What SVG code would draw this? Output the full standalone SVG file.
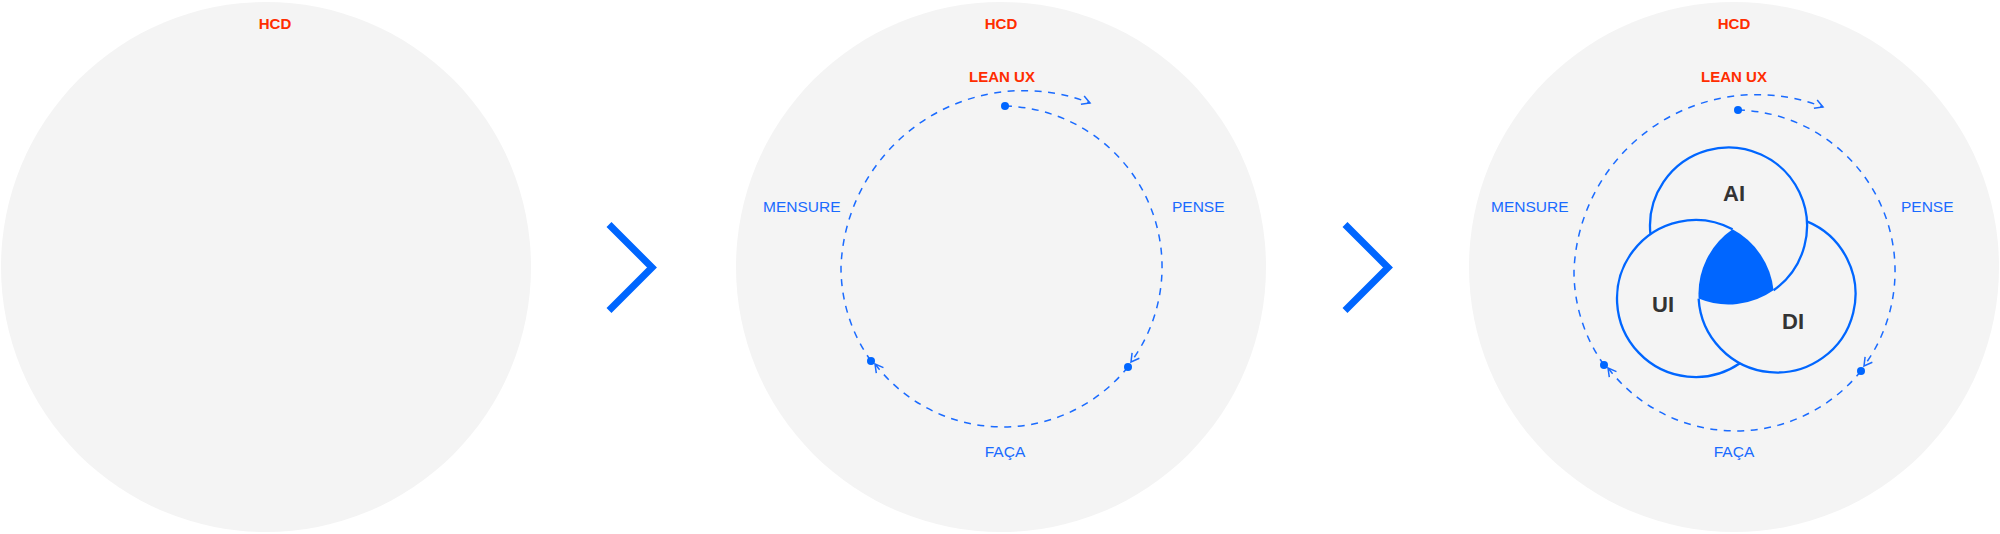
<svg xmlns="http://www.w3.org/2000/svg" width="2000" height="534" viewBox="0 0 2000 534">
<style>
.bg{fill:#f4f4f4;}
.red{fill:#ff2d00;font-family:"Liberation Sans",Arial,sans-serif;font-weight:bold;font-size:15px;text-anchor:middle;}
.blue{fill:#1a6bff;font-family:"Liberation Sans",Arial,sans-serif;font-size:15.5px;}
.venn{fill:#333333;font-family:"Liberation Sans",Arial,sans-serif;font-weight:bold;font-size:22px;text-anchor:middle;}
.dash{fill:none;stroke:#1a6bff;stroke-width:1.5;stroke-dasharray:7 6.5;marker-end:url(#arr);}
.dot{fill:#0066ff;}
.ring{fill:none;stroke:#0066ff;stroke-width:2.3;}
.chev{fill:none;stroke:#0066ff;stroke-width:7;stroke-linejoin:miter;stroke-linecap:butt;}
</style>
<defs>
<marker id="arr" markerUnits="userSpaceOnUse" orient="auto" refX="0" refY="0" markerWidth="20" markerHeight="20" viewBox="-10 -10 20 20" overflow="visible">
<path d="M-8,-4.5 L0,0 L-8,4.5" fill="none" stroke="#1a6bff" stroke-width="1.5"/>
</marker>
</defs>
<rect width="2000" height="534" fill="#ffffff"/>

<g id="stage1">
<circle class="bg" cx="266" cy="267" r="265"/>
<text class="red" x="275" y="29">HCD</text>
</g>

<g id="stage2">
<circle class="bg" cx="1001" cy="267" r="265"/>
<text class="red" x="1001" y="29">HCD</text>
<text class="red" x="1002" y="82">LEAN UX</text>
<text class="blue" x="763" y="212">MENSURE</text>
<text class="blue" x="1172" y="212">PENSE</text>
<text class="blue" x="1005" y="457" text-anchor="middle">FAÇA</text>
</g>

<g id="stage3">
<circle class="bg" cx="1734" cy="267" r="265"/>
<text class="red" x="1734" y="29">HCD</text>
<text class="red" x="1734" y="82">LEAN UX</text>
<text class="blue" x="1491" y="212">MENSURE</text>
<text class="blue" x="1901" y="212">PENSE</text>
<text class="blue" x="1734" y="457" text-anchor="middle">FAÇA</text>
</g>

<g id="venn">
<g id="node-ai">
<path class="ring" d="M1650.44,234.23 A78.5,78.5 0 1 1 1773.56,290.27"/>
<text class="venn" x="1734" y="200.5">AI</text>
</g>
<g id="node-di">
<path class="ring" d="M1806.87,221.40 A78.5,78.5 0 1 1 1698.63,298.60"/>
<text class="venn" x="1793" y="329">DI</text>
</g>
<g id="node-ui">
<path class="ring" d="M1739.95,363.21 A78.5,78.5 0 1 1 1732.55,229.29"/>
<text class="venn" x="1663" y="311.5">UI</text>
</g>
<path id="center" fill="#0066ff" d="M1732.55,229.29 A78.5,78.5 0 0 1 1773.56,290.27 A78.5,78.5 0 0 1 1698.63,298.60 A78.5,78.5 0 0 1 1732.55,229.29 Z"/>
</g>

<g id="connectors">
<path class="chev" d="M609,224.5 L652,267.5 L609,310.5"/>
<path class="chev" d="M1345,224.5 L1388,267.5 L1345,310.5"/>
<g id="loop2">
<path class="dash" d="M871,361 A161,161 0 0 1 841,267 A183,183 0 0 1 1090,103"/>
<path class="dash" d="M1005,106 A161,161 0 0 1 1131,362"/>
<path class="dash" d="M1128,367 A161,161 0 0 1 875,364"/>
<circle class="dot" cx="871" cy="361" r="4"/>
<circle class="dot" cx="1005" cy="106" r="4"/>
<circle class="dot" cx="1128" cy="367" r="4"/>
</g>
<g id="loop3" transform="translate(733,4)">
<path class="dash" d="M871,361 A161,161 0 0 1 841,267 A183,183 0 0 1 1090,103"/>
<path class="dash" d="M1005,106 A161,161 0 0 1 1131,362"/>
<path class="dash" d="M1128,367 A161,161 0 0 1 875,364"/>
<circle class="dot" cx="871" cy="361" r="4"/>
<circle class="dot" cx="1005" cy="106" r="4"/>
<circle class="dot" cx="1128" cy="367" r="4"/>
</g>
</g>
</svg>
